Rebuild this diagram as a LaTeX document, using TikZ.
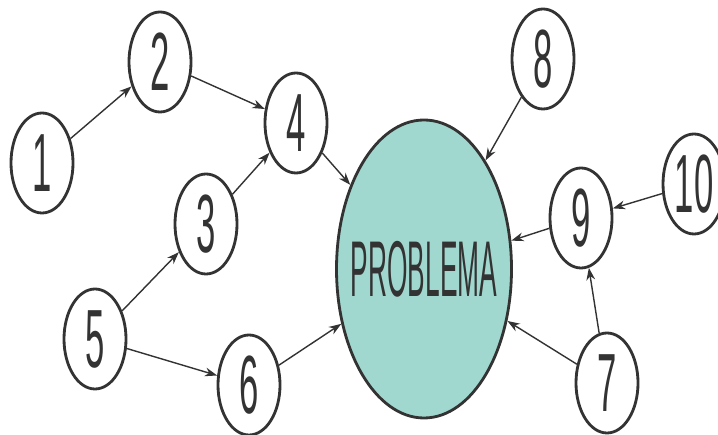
\documentclass[tikz,border=0pt]{standalone}
\usepackage{fontspec}
\usepackage{graphicx}
\newfontfamily\numfont{Liberation Sans}
\usetikzlibrary{arrows.meta}
\usetikzlibrary{shapes.geometric}
\usetikzlibrary{positioning}

\definecolor{linegray}{HTML}{333333}
\definecolor{probfill}{HTML}{A0D8CF}

\newcommand{\narrow}[1]{\scalebox{0.42}[1]{#1}}

\begin{document}
\begin{tikzpicture}[
    num/.style={ellipse, draw=linegray, line width=1.6pt, fill=white, inner sep=0pt,
        minimum width=1.24cm, minimum height=2cm, text=linegray,
        font=\numfont\fontsize{47}{47}\selectfont},
    prob/.style={ellipse, draw=linegray, line width=1.6pt, fill=probfill, inner sep=0pt,
        minimum width=3.5cm, minimum height=5.96cm, text=linegray,
        font=\numfont\fontsize{45}{45}\selectfont},
    arr/.style={-{Stealth[length=7pt,width=5pt]}, draw=linegray, line width=0.8pt}
  ]
  \useasboundingbox (0,0) rectangle (14.36,8.7);

  % nodes
  \node [prob] (prob) at (8.48,3.32) {\makebox[0pt]{\scalebox{0.333}[1]{PROBLEMA}}};
  \node [num] (n1) at (0.84,5.44) {\narrow{1}};
  \node [num] (n2) at (3.2,7.46) {\narrow{2}};
  \node [num] (n3) at (4.12,4.22) {\narrow{3}};
  \node [num] (n4) at (5.92,6.24) {\narrow{4}};
  \node [num] (n5) at (1.9,1.92) {\narrow{5}};
  \node [num] (n6) at (4.98,1.0) {\narrow{6}};
  \node [num] (n7) at (12.14,1.04) {\narrow{7}};
  \node [num] (n8) at (10.86,7.52) {\narrow{8}};
  \node [num] (n9) at (11.62,4.34) {\narrow{9}};
  \node [num] (n10) at (13.88,5.02) {\narrow{10}};

  % arrows
  \draw [arr] (n1) -- (n2);
  \draw [arr] (n2) -- (n4);
  \draw [arr] (n3) -- (n4);
  \draw [arr] (n4) -- (prob);
  \draw [arr] (n5) -- (n3);
  \draw [arr] (n5) -- (n6);
  \draw [arr] (n6) -- (prob);
  \draw [arr] (n8) -- (prob);
  \draw [arr] (n10) -- (n9);
  \draw [arr] (n9) -- (prob);
  \draw [arr] (n7) -- (n9);
  \draw [arr] (n7) -- (prob);
\end{tikzpicture}
\end{document}
